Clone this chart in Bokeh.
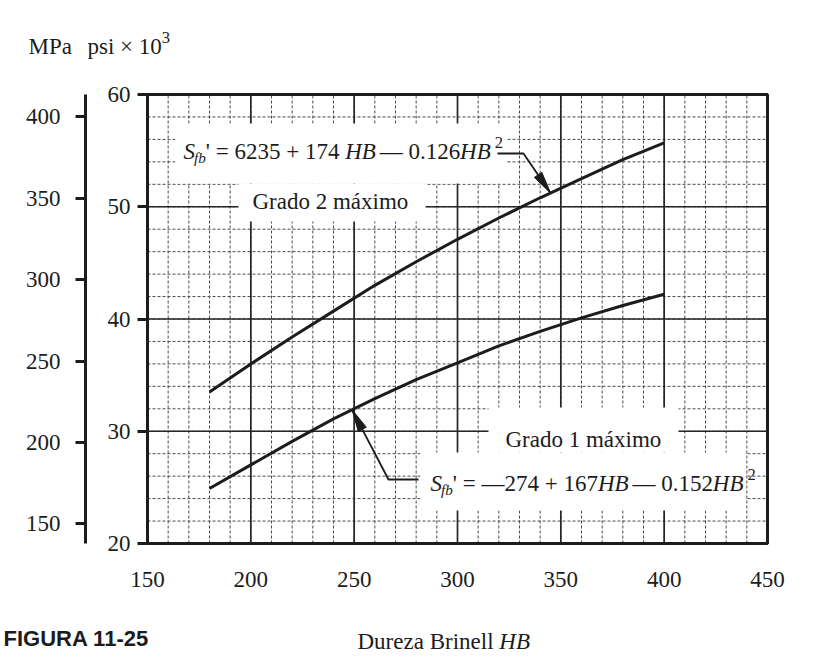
import numpy as np
from bokeh.plotting import figure
from bokeh.models import Range1d, LinearAxis, FixedTicker, Label, BoxAnnotation
from bokeh.embed import file_html
from bokeh.resources import INLINE

# ---------------- data ----------------
hb = [180, 200, 220, 240, 260, 280, 300, 320, 340, 360, 380, 400]
grado2_ksi = [33.5, 36.0, 38.4, 40.7, 43.0, 45.1, 47.1, 49.0, 50.8, 52.5, 54.2, 55.7]
grado1_ksi = [24.9, 27.0, 29.1, 31.1, 32.9, 34.6, 36.1, 37.6, 38.9, 40.1, 41.2, 42.2]
hb_ticks = [150, 200, 250, 300, 350, 400, 450]
hb_minor = list(range(150, 451, 10))
ksi_ticks = [20, 30, 40, 50, 60]
ksi_minor = list(range(20, 61, 2))
mpa_ticks = [150, 200, 250, 300, 350, 400]
MPA_PER_KSI = 6.895
eq_grado2 = [("S", "i"), ("fb", "sub"), ("' = 6235 + 174 ", "r"), ("HB", "i"),
             (" \u2014 0.126", "r"), ("HB", "i"), ("2", "sup")]
eq_grado1 = [("S", "i"), ("fb", "sub"), ("' = \u2014274 + 167", "r"), ("HB", "i"),
             (" \u2014 0.152", "r"), ("HB", "i"), ("2", "sup")]

# ---------------- layout ----------------
W, H = 817, 658
FL, FT, FW, FH = 147, 94, 620, 449          # plot area in pixels
X0, X1, Y0, Y1 = 150, 450, 20, 60
PXX = FW / (X1 - X0)
PXY = FH / (Y1 - Y0)
INK = "#1c1c1c"
FONT = "Liberation Serif"
FS = 23
BASE_FIX = 7   # svg alphabetic baseline correction (px)


def px2x(px):
    return X0 + (px - FL) / PXX


def py2y(py):
    return Y1 - (py - FT) / PXY


def x2px(x):
    return FL + (x - X0) * PXX


def y2py(y):
    return FT + (Y1 - y) * PXY


# the frame covers the whole canvas; the plot area is drawn inside it
p = figure(width=W, height=H, x_range=Range1d(px2x(0), px2x(W)),
           y_range=Range1d(py2y(H), py2y(0)),
           output_backend="svg", toolbar_location=None,
           x_axis_location=None, y_axis_location=None, min_border=0)
p.background_fill_color = "white"
p.border_fill_color = "white"
p.outline_line_color = None
p.xgrid.visible = False
p.ygrid.visible = False

# ---------------- grid ----------------
nvx, nvy = len(hb_minor), len(ksi_minor)
p.segment(x0=hb_minor, y0=[Y0] * nvx, x1=hb_minor, y1=[Y1] * nvx,
          line_color="#4a4a4a", line_width=1, line_dash="3 2")
p.segment(x0=[X0] * nvy, y0=ksi_minor, x1=[X1] * nvy, y1=ksi_minor,
          line_color="#4a4a4a", line_width=1, line_dash="3 2")
p.segment(x0=hb_ticks, y0=[Y0] * len(hb_ticks), x1=hb_ticks, y1=[Y1] * len(hb_ticks),
          line_color="#262626", line_width=1.7)
p.segment(x0=[X0] * len(ksi_ticks), y0=ksi_ticks, x1=[X1] * len(ksi_ticks), y1=ksi_ticks,
          line_color="#262626", line_width=1.7)
p.quad(left=[X0], right=[X1], bottom=[Y0], top=[Y1], fill_color=None,
       line_color=INK, line_width=3)

# ---------------- axes ----------------
xa = LinearAxis(ticker=FixedTicker(ticks=hb_ticks, minor_ticks=[]), fixed_location=Y0,
                bounds=(X0, X1))
ya = LinearAxis(ticker=FixedTicker(ticks=ksi_ticks, minor_ticks=[]), fixed_location=X0,
                bounds=(Y0, Y1))
p.extra_y_ranges = {"mpa": Range1d(py2y(H) * MPA_PER_KSI, py2y(0) * MPA_PER_KSI)}
ma = LinearAxis(y_range_name="mpa", ticker=FixedTicker(ticks=mpa_ticks, minor_ticks=[]),
                fixed_location=px2x(85), bounds=(Y0 * MPA_PER_KSI, Y1 * MPA_PER_KSI))
p.add_layout(xa, "below")
p.add_layout(ya, "left")
p.add_layout(ma, "left")

for ax in (xa, ya, ma):
    ax.major_label_text_font = FONT
    ax.major_label_text_font_size = f"{FS}px"
    ax.major_label_text_color = INK
    ax.minor_tick_line_color = None
    ax.major_tick_in = 0
    ax.major_tick_line_color = INK
    ax.major_tick_line_width = 3

xa.axis_line_color = None
xa.major_tick_out = 0
xa.major_label_standoff = 28

ya.axis_line_color = None
ya.major_tick_out = 10
ya.major_label_standoff = 7

ma.axis_line_color = INK
ma.axis_line_width = 3
ma.major_tick_out = 10
ma.major_label_standoff = 15

# ---------------- curves ----------------
p.line(hb, grado2_ksi, line_width=3, color=INK)
p.line(hb, grado1_ksi, line_width=3, color=INK)

# ---------------- white masks behind labels ----------------
for l, r, t, b in [(175, 505, 123, 183), (238, 425, 183, 221),
                   (488, 678, 407, 452), (420, 745, 452, 510)]:
    p.add_layout(BoxAnnotation(left=px2x(l), right=px2x(r), top=py2y(t), bottom=py2y(b),
                               fill_color="white", fill_alpha=1.0, line_color=None))

# ---------------- text helpers ----------------
REG = {" ": 250, "'": 180, "=": 564, "+": 564, "\u2014": 1000, ".": 250, "\u00b2": 300,
       "H": 722, "B": 667, "D": 722, "u": 500, "r": 333, "e": 444, "z": 444, "a": 444,
       "i": 278, "n": 500, "l": 278, "G": 722, "d": 500, "o": 500, "m": 778,
       "\u00e1": 444, "x": 500, "M": 889, "P": 556, "p": 500, "s": 389, "\u00d7": 564}
ITA = {"S": 500, "f": 278, "b": 500, "H": 722, "B": 611}


def tw(s, size, italic=False):
    m = ITA if italic else REG
    return sum(m.get(c, 500) for c in s) * size / 1000.0


def rich(parts, px, py, size=FS):
    off = 0.0
    for t, st in parts:
        if st == "sub":
            fs, dy, it = size * 0.66, -0.24 * size, True
        elif st == "sup":
            fs, dy, it = size * 0.72, 0.40 * size, False
        else:
            fs, dy, it = size, 0.0, st == "i"
        p.add_layout(Label(x=px2x(px), y=py2y(py), x_offset=off, y_offset=dy + BASE_FIX,
                           text=t, text_font=FONT, text_font_size=f"{fs:.1f}px",
                           text_font_style="italic" if it else "normal",
                           text_color=INK, text_baseline="alphabetic", text_align="left"))
        w = tw(t, fs, it)
        if t == "HB" and st == "i":
            w += 4
        if t == "S":
            w -= 1
        if "\u2014 0." in t:
            w -= 6
        off += w


rich(eq_grado2, 183, 158)
rich(eq_grado1, 430, 490)
rich([("Grado 2 m\u00e1ximo", "r")], 252, 208)
rich([("Grado 1 m\u00e1ximo", "r")], 505, 446)
rich([("Dureza Brinell ", "r"), ("HB", "i")], 357, 648)
rich([("MPa", "r")], 28, 53)
rich([("psi \u00d7 10", "r"), ("3", "sup")], 87, 53)
p.add_layout(Label(x=px2x(3), y=py2y(645), y_offset=BASE_FIX, text="FIGURA 11-25",
                   text_font="Liberation Sans", text_font_size="22px",
                   text_font_style="bold", text_color=INK,
                   text_baseline="alphabetic", text_align="left"))

# ---------------- leaders with arrow heads ----------------


def leader(points_px, head_len=22, head_w=9):
    xs = [px2x(a) for a, b in points_px]
    ys = [py2y(b) for a, b in points_px]
    p.line(xs, ys, line_width=1.8, color=INK, level="overlay")
    (ax_, ay_), (tx, ty) = points_px[-2], points_px[-1]
    d = np.hypot(tx - ax_, ty - ay_)
    ux, uy = (tx - ax_) / d, (ty - ay_) / d
    bx, by = tx - head_len * ux, ty - head_len * uy
    nx, ny = -uy * head_w / 2, ux * head_w / 2
    hx = [tx, bx + nx, bx - nx]
    hy = [ty, by + ny, by - ny]
    p.patch([px2x(v) for v in hx], [py2y(v) for v in hy], color=INK, level="overlay")


tip2_x = 345
tip2 = (x2px(tip2_x), y2py(float(np.interp(tip2_x, hb, grado2_ksi))))
leader([(497, 153), (523, 153), tip2])
tip1_x = 249
tip1 = (x2px(tip1_x), y2py(float(np.interp(tip1_x, hb, grado1_ksi))))
leader([(418, 479), (388, 479), tip1])

open("out.html", "w").write(file_html(p, INLINE))
